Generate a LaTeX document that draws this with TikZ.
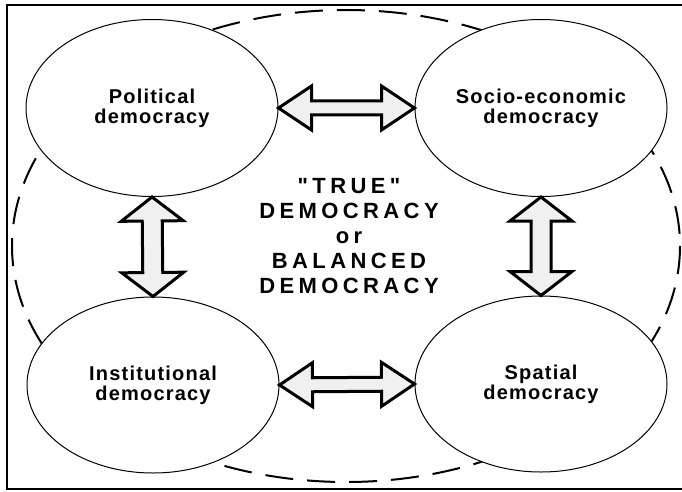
\documentclass[tikz,border=0pt]{standalone}
\usepackage{fontspec}
\setmainfont{Liberation Sans}
\newfontfamily\circfont[LetterSpace=6]{Liberation Sans}
\newfontfamily\centfont[LetterSpace=20]{Liberation Sans}
\usetikzlibrary{shapes.geometric,calc}
\tikzset{
  circ/.style={ellipse, draw, line width=1pt, fill=white, minimum width=252pt, minimum height=177pt,
    inner sep=0pt, align=center, font=\circfont\bfseries\fontsize{20}{20}\selectfont},
  bigdash/.style={line width=2pt, dash pattern=on 28pt off 14pt},
  frame/.style={line width=1.4pt},
  fatarr/.style={line width=3pt, line join=miter, fill=gray!12, draw=black},
  centtext/.style={align=center, font=\centfont\bfseries\fontsize{22}{25}\selectfont}
}
\newcommand\fatarrow[5]{%
  \draw[fatarr] (#1)
    -- ($(#1)!#3!(#2)!#4!90:(#2)$)
    -- ($(#1)!#3!(#2)!#5!90:(#2)$)
    -- ($(#2)!#3!(#1)!#5!-90:(#1)$)
    -- ($(#2)!#3!(#1)!#4!-90:(#1)$)
    -- (#2)
    -- ($(#2)!#3!(#1)!#4!90:(#1)$)
    -- ($(#2)!#3!(#1)!#5!90:(#1)$)
    -- ($(#1)!#3!(#2)!#5!-90:(#2)$)
    -- ($(#1)!#3!(#2)!#4!-90:(#2)$)
    -- cycle;}
\begin{document}
\begin{tikzpicture}[x=1pt,y=-1pt]
\useasboundingbox (0,0) rectangle (682,492);
\fill[white] (0,0) rectangle (682,492);
\draw[frame] (7,5) rectangle (688,489);
\draw[bigdash] (346,246) ellipse [x radius=334, y radius=236];
\node[circ] (pol) at (152,108) {Political\\democracy};
\node[circ] (soc) at (541,108) {Socio-economic\\democracy};
\node[circ, minimum height=176pt] (ins) at (153,385) {Institutional\\democracy};
\node[circ, minimum height=176pt] (spa) at (541,384) {Spatial\\democracy};
\node[centtext] (mid) at (349,236) {"TRUE"\\DEMOCRACY\\or\\BALANCED\\DEMOCRACY};
\fatarrow{pol.east}{soc.west}{33pt}{22pt}{7pt}
\fatarrow{ins.east}{spa.west}{33pt}{22pt}{7pt}
\fatarrow{pol.south}{ins.north}{24pt}{31pt}{10pt}
\fatarrow{soc.south}{spa.north}{24pt}{31pt}{10pt}
\end{tikzpicture}
\end{document}
